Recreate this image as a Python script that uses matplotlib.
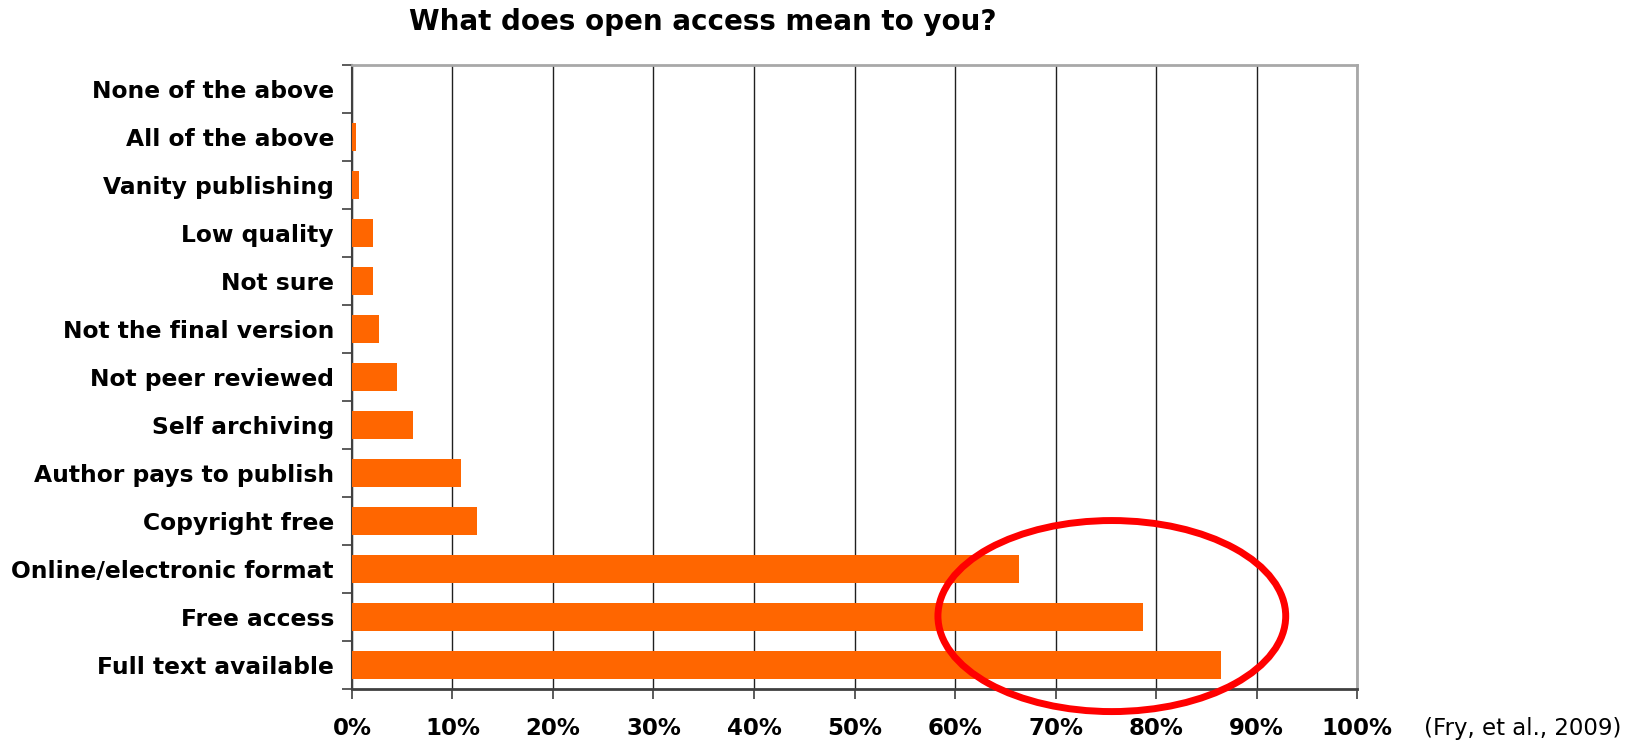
import matplotlib
matplotlib.use("Agg")
import matplotlib.pyplot as plt
import matplotlib.ticker as ticker
from matplotlib.patches import Ellipse
import numpy as np

# Respuestas (de arriba hacia abajo) y porcentajes
respuestas = ['None of the above', 'All of the above', 'Vanity publishing', 'Low quality',
              'Not sure', 'Not the final version', 'Not peer reviewed', 'Self archiving',
              'Author pays to publish', 'Copyright free', 'Online/electronic format',
              'Free access', 'Full text available']
porcentajes = [0.0, 0.45, 0.75, 2.1, 2.1, 2.7, 4.5, 6.1, 10.8, 12.4, 66.4, 78.7, 86.5]
marcas_x = list(range(0, 101, 10))

plt.rcParams['font.family'] = ['DejaVu Sans']

fig = plt.figure(figsize=(16.37, 7.44), dpi=100)
ax = fig.add_axes([0.215, 0.0739, 0.614, 0.8387])

pos = np.arange(len(respuestas))
ax.barh(pos, porcentajes, height=0.6, color='#FF6600', zorder=3)

ax.set_xlim(0, 100)
ax.set_ylim(len(respuestas) - 0.5, -0.5)

# etiquetas del eje y, marcas entre categorias
ax.set_yticks(pos)
ax.set_yticklabels(respuestas, fontsize=16.8, fontweight='bold')
ax.yaxis.set_minor_locator(ticker.FixedLocator(np.arange(-0.5, len(respuestas), 1)))
ax.tick_params(axis='y', which='major', length=0, pad=13)
ax.tick_params(axis='y', which='minor', length=7, width=1.2, color='#404040')

ax.set_xticks(marcas_x)
ax.set_xticklabels([f'{v}%' for v in marcas_x], fontsize=16.5, fontweight='bold')
ax.tick_params(axis='x', length=7, width=1.2, color='#404040', pad=13)

# lineas verticales
ax.grid(axis='x', color='#202020', linewidth=1, zorder=1)
ax.set_axisbelow(True)

for s in ['top', 'right']:
    ax.spines[s].set_color('#a8a8a8')
    ax.spines[s].set_linewidth(2)
ax.spines['left'].set_color('#404040')
ax.spines['left'].set_linewidth(1.5)
ax.spines['bottom'].set_color('#404040')
ax.spines['bottom'].set_linewidth(2)

# circulo rojo
elipse = Ellipse((75.6, 10.98), width=34.6, height=3.98, fill=False,
                 edgecolor='#FF0000', linewidth=5, zorder=5, clip_on=False)
ax.add_patch(elipse)

fig.text(0.4295, 0.970, 'What does open access mean to you?', ha='center', va='center',
         fontsize=20, fontweight='bold')
fig.text(0.870, 1 - 728 / 744, '(Fry, et al., 2009)', ha='left', va='center', fontsize=16.5)

fig.savefig('out.png', dpi=100)
